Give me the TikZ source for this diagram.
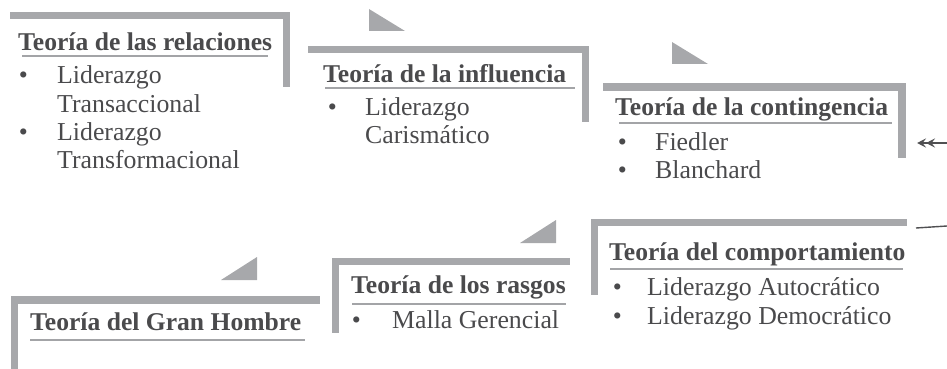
\documentclass[tikz,border=0pt]{standalone}
\usepackage{fontspec}
\setmainfont{Liberation Serif}
\usetikzlibrary{arrows.meta}
\definecolor{barcol}{HTML}{A7A8AB}
\definecolor{txtcol}{HTML}{4A4A4C}
\definecolor{ulcol}{HTML}{A3A4A7}
\definecolor{arrcol}{HTML}{505052}
\tikzset{
  bar/.style={fill=barcol, draw=none},
  tri/.style={fill=barcol, draw=none},
  ttl/.style={anchor=base west, inner sep=0pt, text=txtcol, font=\fontsize{25.6pt}{28.5pt}\selectfont\bfseries},
  itm/.style={anchor=base west, inner sep=0pt, text=txtcol, font=\fontsize{25.8pt}{28.5pt}\selectfont},
  bul/.style={anchor=base, inner sep=0pt, text=txtcol, font=\fontsize{25.8pt}{28.5pt}\selectfont},
  uline/.style={draw=ulcol, line width=1.6pt},
  conn/.style={draw=arrcol, line width=1.4pt}
}
\begin{document}
\begin{tikzpicture}[x=1pt,y=-1pt]
\useasboundingbox (0,0) rectangle (947,369);
% ---- Box 1: relaciones
\fill[bar] (10,12) rectangle (290,19);
\fill[bar] (283,12) rectangle (290,87);
\node[ttl] (t1) at (18,51) {Teoría de las relaciones};
\draw[uline] (22,56) -- (268,56);
\node[bul] (b1a) at (23.5,83) {•};
\node[itm] (i1a) at (57,83) {Liderazgo};
\node[itm] (i1a2) at (57,112) {Transaccional};
\node[bul] (b1b) at (23.5,140) {•};
\node[itm] (i1b) at (57,140) {Liderazgo};
\node[itm] (i1b2) at (57,168) {Transformacional};
\fill[tri] (369,9) -- (369,31) -- (405,31) -- cycle;
% ---- Box 2: influencia
\fill[bar] (308,46) rectangle (589,53);
\fill[bar] (582,46) rectangle (589,122);
\node[ttl] (t2) at (323,82) {Teoría de la influencia};
\draw[uline] (325,88) -- (575,88);
\node[bul] (b2a) at (332.5,115) {•};
\node[itm] (i2a) at (365,115) {Liderazgo};
\node[itm] (i2a2) at (365,143) {Carismático};
\fill[tri] (672,42) -- (672,64) -- (708,64) -- cycle;
% ---- Box 3: contingencia
\fill[bar] (603,83) rectangle (906,91);
\fill[bar] (898,83) rectangle (906,158);
\node[ttl] (t3) at (615,115) {Teoría de la contingencia};
\draw[uline] (619,123) -- (892,123);
\node[bul] (b3a) at (622.5,150) {•};
\node[itm] (i3a) at (655,150) {Fiedler};
\node[bul] (b3b) at (622.5,178) {•};
\node[itm] (i3b) at (655,178) {Blanchard};
% ---- connectors on the right
\coordinate (arrS) at (947,143);
\coordinate (arrE) at (917,143);
\draw[conn, -{Stealth[length=9pt,width=9pt,inset=3.5pt]Stealth[length=9pt,width=9pt,inset=3.5pt]}] (arrS) -- (arrE);
\coordinate (lnS) at (916,228);
\coordinate (lnE) at (947,226);
\draw[conn] (lnS) -- (lnE);
% ---- Box 4: comportamiento
\fill[bar] (591,219) rectangle (907,226);
\fill[bar] (591,219) rectangle (598,295);
\node[ttl] (t4) at (609,260) {Teoría del comportamiento};
\draw[uline] (610,269) -- (903,269);
\node[bul] (b4a) at (617.5,295) {•};
\node[itm] (i4a) at (647,295) {Liderazgo Autocrático};
\node[bul] (b4b) at (617.5,324) {•};
\node[itm] (i4b) at (647,324) {Liderazgo Democrático};
\fill[tri] (556,220) -- (556,243) -- (520,243) -- cycle;
% ---- Box 5: rasgos
\fill[bar] (332,258) rectangle (570,265);
\fill[bar] (332,258) rectangle (339,333);
\node[ttl] (t5) at (351,293) {Teoría de los rasgos};
\draw[uline] (352,304) -- (566,304);
\node[bul] (b5a) at (356.5,328) {•};
\node[itm] (i5a) at (392,328) {Malla Gerencial};
\fill[tri] (257,257) -- (257,280) -- (221,280) -- cycle;
% ---- Box 6: Gran Hombre
\fill[bar] (11,296) rectangle (320,304);
\fill[bar] (11,296) rectangle (18,369);
\node[ttl] (t6) at (30,330) {Teoría del Gran Hombre};
\draw[uline] (30,340) -- (305,340);
\end{tikzpicture}
\end{document}
